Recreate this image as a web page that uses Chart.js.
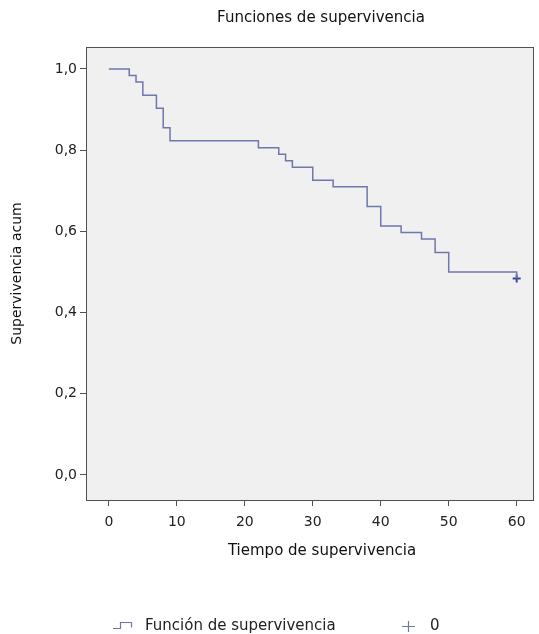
<!DOCTYPE html>
<html>
<head>
<meta charset="utf-8">
<script src="https://cdn.jsdelivr.net/npm/chart.js@4/dist/chart.umd.min.js"></script>
<style>
  html, body { margin: 0; padding: 0; background: #fff; }
  canvas { display: block; }
</style>
</head>
<body>
<canvas id="graficoSupervivencia" width="539" height="634"></canvas>
<script>
// datos
const tiempos = [0, 3, 4, 5, 7, 8, 9, 22, 25, 26, 27, 30, 33, 38, 40, 43, 46, 48, 50, 60];
const supervivencia = [1.0, 0.984, 0.968, 0.935, 0.903, 0.855, 0.823, 0.806, 0.790, 0.774, 0.758, 0.726, 0.710, 0.661, 0.613, 0.597, 0.581, 0.548, 0.500, 0.484];
const censuradosTiempo = [60];
const censuradosValor = [0.484];
const ticksX = [0, 10, 20, 30, 40, 50, 60];
const ticksY = [0, 0.2, 0.4, 0.6, 0.8, 1.0];

const fuente = "'DejaVu Sans', Verdana, sans-serif";
const colorLinea = "#7077aa";
const colorMarca = "#3b45a0";

// fondo gris y marco del area de trazado
const marcoPlugin = {
    id: 'marco',
    beforeDraw(chart) {
        const a = chart.chartArea, ctx = chart.ctx;
        ctx.save();
        ctx.fillStyle = "#f0f0f0";
        ctx.fillRect(a.left, a.top, a.right - a.left, a.bottom - a.top);
        ctx.restore();
    },
    afterDraw(chart) {
        const a = chart.chartArea, ctx = chart.ctx;
        ctx.save();
        ctx.strokeStyle = "#505050";
        ctx.lineWidth = 1;
        ctx.strokeRect(Math.round(a.left) + 0.5, Math.round(a.top) + 0.5, Math.round(a.right - a.left), Math.round(a.bottom - a.top));
        ctx.restore();
    }
};

// titulos y leyenda colocados como en la salida de SPSS
const textosPlugin = {
    id: 'textos',
    afterDraw(chart) {
        const ctx = chart.ctx;
        ctx.save();
        ctx.fillStyle = "#111";
        ctx.font = "15px " + fuente;
        ctx.textBaseline = "middle";
        ctx.textAlign = "center";
        ctx.fillText("Funciones de supervivencia", 321, 18);
        ctx.fillText("Tiempo de supervivencia", 322, 551);

        ctx.strokeStyle = colorLinea;
        ctx.lineWidth = 1.2;
        ctx.beginPath();
        ctx.moveTo(113, 628.5);
        ctx.lineTo(120.5, 628.5);
        ctx.lineTo(120.5, 622.5);
        ctx.lineTo(131.5, 622.5);
        ctx.lineTo(131.5, 627.5);
        ctx.stroke();
        ctx.beginPath();
        ctx.moveTo(402, 626.5);
        ctx.lineTo(415, 626.5);
        ctx.moveTo(408.5, 621);
        ctx.lineTo(408.5, 632);
        ctx.stroke();
        ctx.fillStyle = "#222";
        ctx.textAlign = "left";
        ctx.fillText("Función de supervivencia", 145, 626);
        ctx.fillText("0", 430, 626);
        ctx.restore();
    }
};

new Chart(document.getElementById("graficoSupervivencia"), {
    type: 'line',
    data: {
        datasets: [{
            label: "Función de supervivencia",
            data: tiempos.map((t, i) => ({ x: t, y: supervivencia[i] })),
            borderColor: colorLinea,
            borderWidth: 1.5,
            stepped: 'before',
            pointRadius: 0,
            fill: false
        }, {
            label: "0",
            data: censuradosTiempo.map((t, i) => ({ x: t, y: censuradosValor[i] })),
            showLine: false,
            pointStyle: 'cross',
            pointRadius: 4,
            borderColor: colorMarca,
            borderWidth: 2
        }]
    },
    options: {
        responsive: false,
        animation: false,
        layout: { padding: { left: 0, right: 3, top: 47, bottom: 0 } },
        plugins: {
            legend: { display: false },
            tooltip: { enabled: false },
            title: { display: false }
        },
        scales: {
            x: {
                type: 'linear',
                min: -3.36,
                max: 62.4,
                afterBuildTicks: eje => { eje.ticks = ticksX.map(v => ({ value: v })); },
                afterFit: eje => { eje.height = 134; },
                grid: { drawOnChartArea: false, drawTicks: true, tickLength: 6, color: "#505050" },
                border: { display: true, color: "#505050" },
                ticks: { color: "#222", padding: 8, maxRotation: 0, font: { family: fuente, size: 14 } },
                title: { display: false }
            },
            y: {
                type: 'linear',
                min: -0.0616,
                max: 1.054,
                afterBuildTicks: eje => { eje.ticks = ticksY.map(v => ({ value: v })); },
                afterFit: eje => { eje.width = 86; },
                grid: { drawOnChartArea: false, drawTicks: true, tickLength: 6, color: "#505050" },
                border: { display: true, color: "#505050" },
                ticks: {
                    color: "#222",
                    padding: 3,
                    font: { family: fuente, size: 14 },
                    callback: v => v.toFixed(1).replace('.', ',')
                },
                title: {
                    display: true,
                    text: "Supervivencia acum",
                    color: "#111",
                    font: { family: fuente, size: 14 },
                    padding: { top: 9, bottom: 0 }
                }
            }
        }
    },
    plugins: [marcoPlugin, textosPlugin]
});
</script>
</body>
</html>
